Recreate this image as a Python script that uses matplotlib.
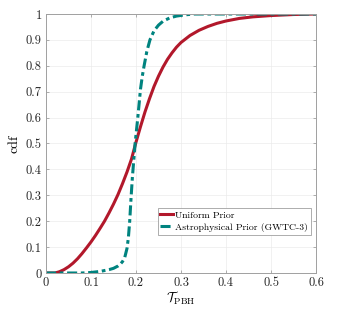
import numpy as np
import matplotlib
matplotlib.use("Agg")
import matplotlib.pyplot as plt

plt.rcParams['font.family'] = 'serif'
plt.rcParams['font.serif'] = ['cmr10']
plt.rcParams['mathtext.fontset'] = 'cm'
plt.rcParams['axes.formatter.use_mathtext'] = True

# cdf of tau_PBH
tau_uniform = [0, 0.02, 0.03, 0.04, 0.05, 0.06, 0.07, 0.08, 0.09, 0.1, 0.11, 0.12, 0.13,
               0.14, 0.15, 0.16, 0.17, 0.18, 0.19, 0.2, 0.21, 0.22, 0.23, 0.24, 0.25,
               0.26, 0.27, 0.28, 0.29, 0.3, 0.32, 0.34, 0.36, 0.38, 0.4, 0.43, 0.46,
               0.5, 0.55, 0.6]
cdf_uniform = [0, 0, 0.005, 0.013, 0.024, 0.038, 0.055, 0.075, 0.097, 0.12, 0.145, 0.172,
               0.2, 0.232, 0.266, 0.303, 0.345, 0.39, 0.44, 0.505, 0.565, 0.622, 0.673,
               0.72, 0.76, 0.795, 0.825, 0.85, 0.872, 0.89, 0.917, 0.937, 0.952, 0.964,
               0.973, 0.983, 0.989, 0.994, 0.998, 1.0]

tau_astro = [0, 0.08, 0.1, 0.12, 0.14, 0.15, 0.16, 0.165, 0.17, 0.175, 0.18, 0.183,
             0.186, 0.189, 0.192, 0.195, 0.198, 0.201, 0.204, 0.207, 0.21, 0.214,
             0.218, 0.224, 0.231, 0.24, 0.25, 0.26, 0.275, 0.29, 0.31, 0.33, 0.6]
cdf_astro = [0, 0, 0.002, 0.006, 0.013, 0.018, 0.027, 0.034, 0.044, 0.06, 0.095, 0.135,
             0.2, 0.29, 0.37, 0.435, 0.5, 0.55, 0.6, 0.655, 0.71, 0.76,
             0.8, 0.855, 0.9, 0.935, 0.957, 0.972, 0.985, 0.992, 0.997, 1.0, 1.0]

xticks = [0, 0.1, 0.2, 0.3, 0.4, 0.5, 0.6]
xticklabels = ['0', '0.1', '0.2', '0.3', '0.4', '0.5', '0.6']
yticks = [0, 0.1, 0.2, 0.3, 0.4, 0.5, 0.6, 0.7, 0.8, 0.9, 1]
yticklabels = ['0', '0.1', '0.2', '0.3', '0.4', '0.5', '0.6', '0.7', '0.8', '0.9', '1']

red = '#B2182B'
teal = '#00837F'

fig = plt.figure(figsize=(3.5, 3.09), dpi=100)
ax = fig.add_axes([46 / 350, 36 / 309, 270 / 350, 259 / 309])

ax.plot(tau_uniform, cdf_uniform, color=red, lw=2.2, label='Uniform Prior')
ax.plot(tau_astro, cdf_astro, color=teal, lw=2.2, ls=(0, (3.3, 1.2, 1.2, 1.2)),
        label='Astrophysical Prior (GWTC-3)')

ax.set_xlim(0, 0.6)
ax.set_ylim(0, 1)
ax.set_xticks(xticks)
ax.set_xticklabels(xticklabels)
ax.set_yticks(yticks)
ax.set_yticklabels(yticklabels)
ax.tick_params(direction='in', length=2.5, width=0.6, labelsize=9, colors='#A0A0A0',
               labelcolor='#262626', top=True, right=True, pad=3)
ax.tick_params(axis='x', pad=2.5)
ax.grid(True, color='#EBEBEB', lw=0.5)
ax.set_axisbelow(True)
for s in ax.spines.values():
    s.set_color('#A0A0A0')
    s.set_linewidth(0.7)

ax.set_xlabel(r'$\mathcal{T}_{\rm PBH}$', fontsize=9.5, labelpad=0.5)
ax.set_ylabel('cdf', fontsize=10, labelpad=4)

leg = ax.legend(loc='lower right', bbox_to_anchor=(0.981, 0.148), fontsize=7,
                handlelength=1.3, handletextpad=0.2, borderpad=0.3, labelspacing=0.3,
                fancybox=False, framealpha=1, borderaxespad=0)
leg.get_frame().set_edgecolor('#A0A0A0')
leg.get_frame().set_linewidth(0.6)

fig.savefig('out.png', dpi=100, facecolor='white')
